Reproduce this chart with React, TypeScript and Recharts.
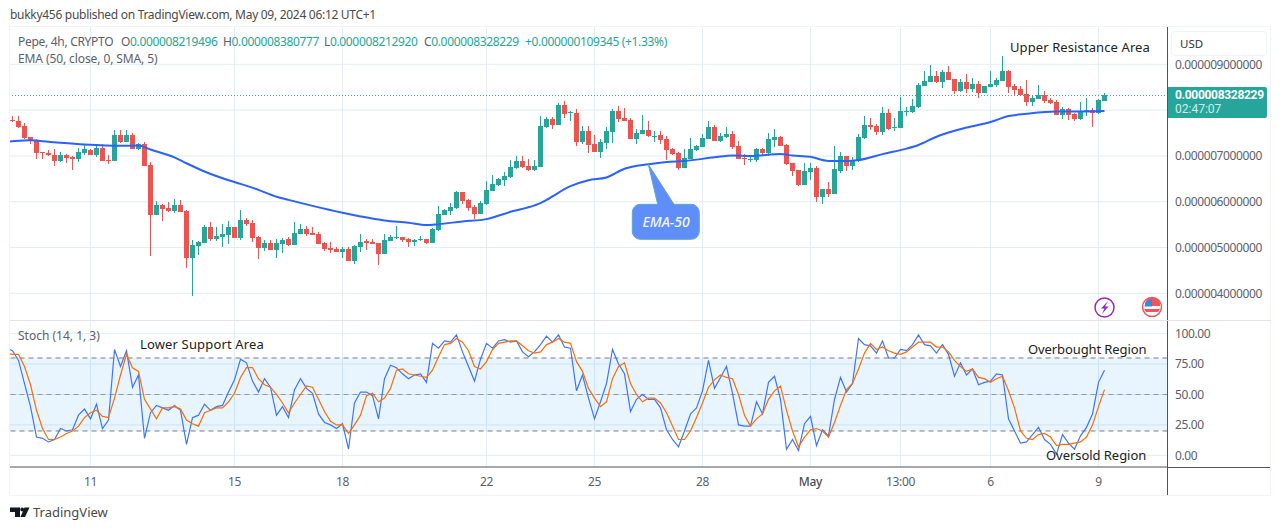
import {
  ComposedChart, Bar, Line, XAxis, YAxis, CartesianGrid,
  ReferenceLine, ReferenceArea,
} from 'recharts';

// Pepe 4h candles, in millionths of a USD
const opens = [
  7.78,7.76,7.65,7.41,7.35,7.08,7.07,7.03,6.89,7.02,
  6.98,6.93,7.06,7.14,7.02,7.17,6.91,6.89,7.46,7.31,
  7.46,7.15,7.26,6.80,5.71,5.93,5.86,5.80,5.93,5.80,
  4.77,5.03,5.10,5.45,5.18,5.23,5.27,5.45,5.20,5.60,
  5.54,5.23,4.99,5.10,4.95,5.08,5.19,5.05,5.30,5.40,
  5.32,5.30,5.10,4.99,4.97,4.90,4.97,4.70,5.01,5.14,
  5.12,5.10,4.86,5.14,5.21,5.22,5.19,5.12,5.16,5.19,
  5.11,5.38,5.71,5.80,5.86,6.21,6.04,5.89,5.73,5.95,
  6.23,6.37,6.47,6.54,6.74,6.89,6.78,6.69,6.76,7.63,
  7.81,7.68,8.11,7.94,7.94,7.30,7.54,7.26,7.09,7.28,
  7.52,7.98,7.83,7.78,7.37,7.48,7.57,7.41,7.46,7.37,
  7.15,7.06,6.74,6.93,7.13,7.19,7.37,7.63,7.33,7.41,
  7.48,7.22,6.95,6.92,6.91,7.15,7.06,7.35,7.41,7.24,
  6.84,6.69,6.37,6.65,6.74,6.10,6.28,6.17,6.67,7.00,
  6.78,6.89,7.39,7.67,7.65,7.52,7.94,7.61,7.61,7.96,
  7.96,8.07,8.53,8.61,8.75,8.61,8.83,8.68,8.42,8.61,
  8.46,8.57,8.37,8.50,8.55,8.64,8.85,8.53,8.46,8.35,
  8.18,8.24,8.33,8.22,8.18,7.89,8.02,7.91,7.81,7.96,
  8.00,7.94,8.20,
];
const highs = [
  7.87,7.87,7.71,7.41,7.36,7.09,7.13,7.15,7.09,7.04,
  7.00,7.17,7.25,7.15,7.25,7.25,7.02,7.57,7.57,7.57,
  7.49,7.29,7.31,6.86,6.02,5.95,6.00,6.06,6.04,5.82,
  5.16,5.14,5.49,5.56,5.45,5.51,5.58,5.45,5.82,5.64,
  5.60,5.25,5.16,5.16,5.19,5.21,5.23,5.56,5.51,5.47,
  5.45,5.34,5.12,5.12,5.01,5.01,5.01,5.05,5.30,5.19,
  5.19,5.10,5.30,5.27,5.47,5.23,5.21,5.19,5.25,5.19,
  5.42,5.91,5.84,5.97,6.23,6.21,6.06,5.93,6.02,6.45,
  6.58,6.52,6.65,6.91,7.00,7.00,6.93,6.91,7.87,7.85,
  7.85,8.16,8.20,7.98,8.02,7.65,7.65,7.46,7.37,7.63,
  8.02,8.09,8.05,7.83,7.59,7.89,7.76,7.54,7.54,7.44,
  7.17,7.09,7.15,7.39,7.24,7.48,7.76,7.68,7.50,7.63,
  7.54,7.33,7.04,7.02,7.17,7.17,7.50,7.59,7.44,7.26,
  6.84,6.69,6.84,6.84,6.78,6.28,6.43,7.22,7.09,7.00,
  6.98,7.48,7.87,7.83,7.70,8.07,8.02,7.83,8.29,8.07,
  8.24,8.59,8.85,8.98,8.85,8.88,8.96,8.68,8.68,8.79,
  8.70,8.64,8.53,8.85,8.70,9.18,8.88,8.57,8.53,8.66,
  8.31,8.55,8.42,8.27,8.22,8.07,8.05,7.94,8.18,8.27,
  8.05,8.24,8.38,
];
const lows = [
  7.74,7.61,7.36,7.25,6.94,6.94,7.00,6.77,6.87,6.85,
  6.69,6.87,7.03,7.02,6.98,6.89,6.83,6.89,7.28,7.30,
  7.15,7.14,6.78,4.81,5.71,5.58,5.78,5.76,5.78,4.55,
  3.94,4.84,5.10,5.14,5.14,5.01,5.08,5.20,5.16,5.47,
  5.12,4.75,4.92,4.95,4.77,4.88,5.03,5.05,5.30,5.25,
  5.27,5.08,4.92,4.88,4.90,4.77,4.70,4.64,4.90,4.95,
  5.08,4.62,4.86,5.14,5.19,5.12,5.01,5.03,5.14,5.08,
  5.10,5.36,5.71,5.71,5.84,5.95,5.80,5.62,5.73,5.93,
  6.23,6.34,6.34,6.52,6.71,6.74,6.67,6.67,6.76,7.61,
  7.59,7.68,7.83,7.76,7.22,7.26,7.06,7.09,6.96,7.15,
  7.28,7.74,7.76,7.37,7.26,7.48,7.41,7.30,7.26,6.91,
  7.02,6.69,6.74,6.93,7.11,7.19,7.37,7.33,7.30,7.39,
  7.15,6.93,6.80,6.87,6.87,7.00,7.00,7.19,7.22,6.80,
  6.56,6.34,6.37,6.47,5.99,5.95,6.10,6.17,6.63,6.67,
  6.69,6.87,7.37,7.57,7.46,7.46,7.57,7.54,7.61,7.87,
  7.94,8.05,8.53,8.61,8.59,8.48,8.66,8.35,8.40,8.37,
  8.40,8.27,8.37,8.50,8.50,8.64,8.37,8.33,8.33,8.09,
  8.09,8.24,8.16,8.13,7.89,7.81,7.78,7.76,7.78,7.87,
  7.63,7.91,8.20,
];
const closes = [
  7.77,7.63,7.39,7.33,7.06,7.06,7.02,6.89,7.02,6.96,
  6.94,7.08,7.15,7.02,7.17,6.89,6.90,7.46,7.30,7.46,
  7.15,7.25,6.78,5.71,5.93,5.84,5.79,5.93,5.78,4.77,
  5.05,5.12,5.45,5.19,5.25,5.30,5.45,5.20,5.60,5.51,
  5.20,4.99,5.10,4.95,5.10,5.16,5.05,5.32,5.40,5.30,
  5.27,5.08,4.97,4.95,4.90,4.97,4.70,5.03,5.12,5.10,
  5.08,4.86,5.16,5.23,5.23,5.16,5.13,5.16,5.19,5.10,
  5.40,5.73,5.82,5.89,6.21,6.02,5.86,5.73,5.97,6.26,
  6.39,6.50,6.56,6.76,6.89,6.76,6.69,6.78,7.65,7.81,
  7.68,8.11,7.92,7.96,7.30,7.54,7.24,7.09,7.30,7.54,
  7.98,7.81,7.76,7.37,7.50,7.57,7.44,7.44,7.35,7.13,
  7.04,6.74,6.95,7.15,7.22,7.39,7.63,7.33,7.44,7.48,
  7.19,6.93,6.93,6.93,7.15,7.06,7.37,7.41,7.22,6.82,
  6.67,6.37,6.67,6.74,6.10,6.28,6.17,6.71,7.00,6.78,
  6.91,7.41,7.67,7.63,7.52,7.94,7.59,7.63,7.98,7.98,
  8.09,8.55,8.64,8.75,8.61,8.83,8.66,8.42,8.61,8.46,
  8.57,8.37,8.53,8.57,8.66,8.85,8.50,8.44,8.33,8.18,
  8.27,8.33,8.20,8.16,7.89,8.02,7.89,7.81,7.98,8.00,
  7.94,8.22,8.33,
];

// EMA 50 sampled at the bars where it could be read
const emaBars = [0,3,6,12,18,21,23,27,29,32,36,38,41,44,46,50,55,58,62,66,69,71,75,79,83,87,88,89,93,96,99,102,106,109,112,117,120,123,128,130,133,136,139,141,145,149,151,154,156,159,163,166,169,174,178,182];
const emaValues = [7.32,7.34,7.31,7.25,7.22,7.23,7.14,6.97,6.84,6.66,6.47,6.39,6.26,6.11,6.04,5.91,5.76,5.68,5.59,5.54,5.49,5.51,5.57,5.62,5.78,5.92,5.97,6.04,6.34,6.47,6.53,6.72,6.82,6.87,6.89,6.97,7.01,7.00,7.04,7.01,6.98,6.89,6.89,6.91,7.04,7.16,7.24,7.42,7.51,7.62,7.74,7.87,7.92,7.97,7.97,7.98];

const stochK = [
  86,78,59,40,15,14,11,13,22,20,
  21,33,38,30,42,22,29,87,73,86,
  56,66,14,35,41,39,37,41,37,9,
  31,33,42,37,40,41,52,62,79,76,
  61,52,63,56,33,40,31,54,63,55,
  51,34,27,25,22,26,5,43,52,52,
  49,30,63,74,72,67,63,66,67,60,
  92,88,94,93,99,85,73,61,79,92,
  88,94,95,93,94,85,81,85,91,98,
  93,99,89,88,53,66,47,30,44,59,
  87,75,67,36,46,50,46,46,39,21,
  13,7,20,34,39,53,78,55,64,73,
  51,25,24,24,44,34,60,65,46,5,
  13,4,26,32,8,21,16,46,64,52,
  59,96,91,90,84,94,80,80,87,86,
  91,99,91,90,84,91,83,65,76,66,
  71,58,60,61,67,66,30,20,10,11,
  17,23,13,9,1,17,10,5,16,23,
  34,60,70,
];
const stochD = [
  83,83,73,58,37,22,13,13,15,18,
  20,24,31,35,37,32,31,47,66,83,
  72,69,46,38,30,39,39,40,38,29,
  26,24,35,37,39,39,44,51,64,72,
  72,63,58,56,50,43,35,43,50,57,
  56,46,36,28,25,25,18,25,33,49,
  51,44,47,55,70,71,67,66,65,64,
  70,81,91,92,96,93,86,73,71,77,
  87,92,93,94,94,90,86,84,85,91,
  93,96,93,92,77,69,55,47,40,44,
  63,73,76,59,50,44,47,47,43,35,
  24,13,13,20,31,43,56,62,66,64,
  63,50,33,24,30,34,46,53,57,37,
  20,7,15,21,22,20,15,27,41,54,
  59,71,84,92,87,89,86,84,83,85,
  89,93,93,93,89,89,85,78,73,69,
  71,64,63,60,63,65,53,39,20,14,
  13,17,18,15,8,9,9,10,11,15,
  25,40,54,
];

const priceGrid = [4, 5, 6, 7, 8, 9];
// 8 has a gridline, but its label sits behind the last price tag
const priceTicks = [4, 5, 6, 7, 9];
const stochTicks = [0, 25, 50, 75, 100];
const timeTickBars = [13, 37, 55, 79, 97, 115, 133, 148, 163, 181];
const timeTickLabels = ['11', '15', '18', '22', '25', '28', 'May', '13:00', '6', '9'];
const lastPrice = 8.328229;

// the lines run in from a bar left of the visible range, it gets clipped
const leadIn = { bar: -1, ema: 7.31, k: 88, d: 84 };
const table: any[] = [leadIn, ...opens.map((open, i) => {
  const emaAt = emaBars.indexOf(i);
  return {
    bar: i,
    open,
    high: highs[i],
    low: lows[i],
    close: closes[i],
    range: [lows[i], highs[i]],
    ema: emaAt >= 0 ? emaValues[emaAt] : null,
    k: stochK[i],
    d: stochD[i],
  };
})];

const UP = '#26A69A';
const DOWN = '#EF5350';
const GRID = '#E3EDF4';
const AXIS = '#50535E';
const TEXT = '#5D606B';
const FONT = '"Noto Sans", sans-serif';
const barDomain = [-0.417, 192.5];

// Bar gives the pixel span of low..high, open and close are placed inside it
function Candle(props: any) {
  const { x, y, width, height, payload } = props;
  const { open, high, low, close } = payload;
  if (high == null) return null;
  const yOf = (v: number) => y + ((high - v) / (high - low)) * height;
  const top = yOf(Math.max(open, close));
  const bottom = yOf(Math.min(open, close));
  const color = close >= open ? UP : DOWN;
  const cx = x + width / 2;
  return (
    <g shapeRendering="crispEdges">
      <line x1={cx} x2={cx} y1={y} y2={y + height} stroke={color} strokeWidth={1} />
      <rect x={x} y={top} width={width} height={Math.max(bottom - top, 1)} fill={color} />
    </g>
  );
}

function TimeTick({ x, y, payload }: any) {
  const label = timeTickLabels[timeTickBars.indexOf(payload.value)];
  return (
    <text
      x={x} y={y} dy={18.5} textAnchor="middle" fill={label === 'May' ? '#4A4D58' : TEXT}
      fontFamily={FONT} fontSize={12} fontWeight={label === 'May' ? 500 : 400} letterSpacing={-0.3}
    >{label}</text>
  );
}

function Label({ x, y, size = 12, color = TEXT, spacing = -0.35, style, children }: any) {
  return (
    <div style={{
      position: 'absolute', left: x, top: y - 10, lineHeight: '20px', fontSize: size,
      color, fontFamily: FONT, letterSpacing: spacing, whiteSpace: 'nowrap', ...style,
    }}>{children}</div>
  );
}

function Overlays() {
  return (
    <>
      <Label x={10} y={15} size={12} color="#4A4A4A" spacing={-0.29}>bukky456 published on TradingView.com, May 09, 2024 06:12 UTC+1</Label>

      <Label x={18} y={42} spacing={-0.3}>Pepe, 4h, CRYPTO</Label>
      <Label x={121} y={42}>O<span style={{ color: UP }}>0.000008219496</span></Label>
      <Label x={223} y={42}>H<span style={{ color: UP }}>0.000008380777</span></Label>
      <Label x={324} y={42}>L<span style={{ color: UP }}>0.000008212920</span></Label>
      <Label x={424} y={42}>C<span style={{ color: UP }}>0.000008328229</span></Label>
      <Label x={525} y={42} color={UP}>+0.000000109345 (+1.33%)</Label>
      <Label x={18} y={59} spacing={-0.1}>EMA (50, close, 0, SMA, 5)</Label>
      <Label x={18} y={336} spacing={0}>Stoch (14, 1, 3)</Label>

      <Label x={1010} y={47} size={13} color="#222" spacing={0.1}>Upper Resistance Area</Label>
      <Label x={140} y={344} size={13} color="#222" spacing={0.15}>Lower Support Area</Label>
      <Label x={1028} y={349} size={13} color="#222" spacing={-0.1}>Overbought Region</Label>
      <Label x={1046} y={455} size={13} color="#222" spacing={-0.05}>Oversold Region</Label>

      {/* currency button */}
      <div style={{ position: 'absolute', left: 1169, top: 28, width: 101, height: 32, background: '#fff' }} />
      <div style={{
        position: 'absolute', left: 1171, top: 31, width: 96, height: 25, boxSizing: 'border-box',
        border: '1px solid #F0F3FA', borderRadius: 4, background: '#fff',
      }} />
      <Label x={1180} y={44} size={11.5} color="#333" spacing={0}>USD</Label>

      {/* last price tag */}
      <div style={{ position: 'absolute', left: 1168, top: 87, width: 99, height: 31, background: UP, borderRadius: '0 2px 2px 0' }} />
      <Label x={1175} y={95} color="#fff" spacing={-0.3} style={{ top: 88.5, lineHeight: '13px', fontWeight: 700, fontFamily: 'Roboto, sans-serif' }}>0.000008328229</Label>
      <Label x={1175} y={109} color="#D4EDEA" spacing={0} style={{ top: 102.5, lineHeight: '13px', fontFamily: 'Roboto, sans-serif' }}>02:47:07</Label>

      <svg width={1281} height={530} style={{ position: 'absolute', left: 0, top: 0, pointerEvents: 'none' }}>
        {/* EMA-50 callout */}
        <path
          d="M640.3 204.3 H657.7 L648.3 164.3 L674 204.3 H691.3 a8 8 0 0 1 8 8 V231.3 a8 8 0 0 1 -8 8 H640.3 a8 8 0 0 1 -8 -8 V212.3 a8 8 0 0 1 8 -8 Z"
          fill="#5F8EFB" stroke="#5BA8CC" strokeWidth={1}
        />
        <text x={666} y={227} textAnchor="middle" fill="#F2F6FF" fontFamily={FONT} fontSize={14} fontStyle="italic" fontWeight={500}>EMA-50</text>

        {/* lightning badge */}
        <circle cx={1104.5} cy={307.5} r={9.5} fill="#fff" stroke="#9C27B0" strokeWidth={1.5} />
        <path d="M1108 301 L1101 308.5 H1104.5 L1102 314 L1108.5 306.5 H1105 Z" fill="#9C27B0" />

        {/* US event badge */}
        <circle cx={1152} cy={307} r={9.5} fill="#fff" stroke="#F0555A" strokeWidth={1.5} />
        <path d="M1145 303 A8 8 0 0 1 1160 303 V306 H1145 Z" fill="#F0555A" />
        <path d="M1144 309 H1160 A8 8 0 0 1 1158 312 H1146 Z" fill="#F0555A" />
        <path d="M1145 304 A8 8 0 0 1 1152 299 V306.5 H1144.5 Z" fill="#2F8BEA" />

        {/* TradingView mark */}
        <path d="M10 507.5 H20 V517 H15 V512 H10 Z" fill="#131722" />
        <circle cx={22.2} cy={509.5} r={1.9} fill="#131722" />
        <path d="M24.5 507.5 H29.5 L25 517 H20.5 Z" fill="#131722" />
      </svg>
      <Label x={33} y={512} size={13} color="#4A4A4A" spacing={0}>TradingView</Label>
    </>
  );
}

function PriceChart() {
  return (
    <ComposedChart
      width={1261} height={293} data={table}
      margin={{ top: 0, right: 0, bottom: 0, left: 0 }}
      style={{ position: 'absolute', left: 10, top: 27 }}
    >
      <CartesianGrid stroke={GRID} verticalValues={timeTickBars} horizontalValues={priceGrid} />
      <XAxis dataKey="bar" type="number" domain={barDomain} allowDataOverflow ticks={timeTickBars} hide />
      <YAxis
        orientation="right" width={103.5} domain={[3.418, 9.815]} allowDataOverflow ticks={priceTicks}
        tickFormatter={(v: number) => (v / 1e6).toFixed(12)}
        tick={{ fill: TEXT, fontSize: 12, fontFamily: FONT, textAnchor: 'start', letterSpacing: -0.4 }}
        tickLine={false} tickSize={0} tickMargin={7.5} axisLine={{ stroke: AXIS }}
      />
      <ReferenceLine y={lastPrice} stroke="#4E9C94" strokeDasharray="1 2" shapeRendering="crispEdges" />
      <Bar dataKey="range" barSize={5} shape={Candle} isAnimationActive={false} />
      <Line dataKey="ema" type="monotone" connectNulls stroke="#2962FF" strokeWidth={2} dot={false} isAnimationActive={false} />
    </ComposedChart>
  );
}

function StochChart() {
  return (
    <ComposedChart
      width={1261} height={174} data={table}
      margin={{ top: 0, right: 0, bottom: 0, left: 0 }}
      style={{ position: 'absolute', left: 10, top: 321 }}
    >
      <CartesianGrid stroke={GRID} verticalValues={timeTickBars} horizontalValues={stochTicks} />
      <XAxis
        dataKey="bar" type="number" domain={barDomain} allowDataOverflow height={28} ticks={timeTickBars}
        interval={0} tick={<TimeTick />}
        tickLine={false} tickSize={0} tickMargin={0} axisLine={{ stroke: AXIS }}
      />
      <YAxis
        orientation="right" width={103.5} domain={[-9.6, 110.4]} allowDataOverflow ticks={stochTicks}
        tickFormatter={(v: number) => v.toFixed(2)}
        tick={{ fill: TEXT, fontSize: 12, fontFamily: FONT, textAnchor: 'start', letterSpacing: -0.4 }}
        tickLine={false} tickSize={0} tickMargin={7.5} axisLine={{ stroke: AXIS }}
      />
      <ReferenceArea y1={20} y2={80} fill="#2196F3" fillOpacity={0.1} stroke="none" />
      <ReferenceLine y={80} stroke="#787B86" strokeDasharray="5 4" />
      <ReferenceLine y={50} stroke="#9598A1" strokeDasharray="5 4" />
      <ReferenceLine y={20} stroke="#787B86" strokeDasharray="5 4" />
      <Line dataKey="k" type="linear" stroke="#3E74FF" strokeWidth={1.2} dot={false} isAnimationActive={false} />
      <Line dataKey="d" type="linear" stroke="#FF6D00" strokeWidth={1.2} dot={false} isAnimationActive={false} />
    </ComposedChart>
  );
}

export default function App() {
  return (
    <div style={{ position: 'absolute', left: 0, top: 0, width: 1281, height: 530, background: '#fff', overflow: 'hidden' }}>
      <div style={{
        position: 'absolute', left: 9, top: 26, width: 1262, height: 469.5,
        boxSizing: 'border-box', border: '1.5px solid #F0F3FA',
      }} />
      <div style={{ position: 'absolute', left: 10, top: 320, width: 1261, height: 1, background: '#E0E3EB' }} />
      <PriceChart />
      <StochChart />
      {/* time scale: its rule runs under the price scale and the scale divider runs down to the frame */}
      <div style={{ position: 'absolute', left: 1167, top: 467, width: 103, height: 1, background: AXIS }} />
      <div style={{ position: 'absolute', left: 1167, top: 467, width: 1, height: 28, background: AXIS }} />
      <Overlays />
    </div>
  );
}
